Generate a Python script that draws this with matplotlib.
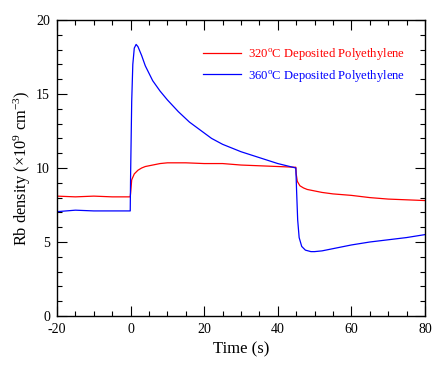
import matplotlib
matplotlib.use("Agg")
import matplotlib.pyplot as plt
from matplotlib.ticker import MultipleLocator

plt.rcParams['font.family'] = ['Liberation Serif', 'DejaVu Serif']
plt.rcParams['mathtext.fontset'] = 'custom'
plt.rcParams['mathtext.rm'] = 'Liberation Serif'
plt.rcParams['mathtext.it'] = 'Liberation Serif:italic'
plt.rcParams['axes.unicode_minus'] = False

# Data
t_red = [-20, -15, -10, -5, -0.1, 0, 0.3, 1, 2, 3, 4, 6, 8, 10, 15, 20, 25, 30, 35, 40,
         44.9, 45, 45.3, 46, 47, 48, 50, 52, 55, 60, 65, 70, 75, 80]
v_red = [8.1, 8.05, 8.1, 8.05, 8.05, 8.3, 9.2, 9.6, 9.85, 10.0, 10.1, 10.2, 10.3, 10.35,
         10.35, 10.3, 10.3, 10.2, 10.15, 10.1, 10.05, 9.6, 9.1, 8.8, 8.65, 8.55, 8.45,
         8.35, 8.25, 8.15, 8.0, 7.9, 7.85, 7.8]

t_blue = [-20, -15, -10, -5, -0.1, 0, 0.3, 0.6, 1.0, 1.5, 2, 3, 4, 6, 8, 10, 13, 16, 19,
          22, 25, 30, 35, 40, 44.9, 45.1, 45.4, 45.8, 46.5, 47.5, 49, 50, 52, 55, 60, 65,
          70, 75, 80]
v_blue = [7.05, 7.15, 7.1, 7.1, 7.1, 9.5, 14.5, 17.0, 18.1, 18.35, 18.2, 17.6, 16.9, 15.9,
          15.2, 14.6, 13.8, 13.1, 12.55, 12.0, 11.6, 11.1, 10.7, 10.3, 10.0, 8.5, 6.5, 5.3,
          4.7, 4.45, 4.35, 4.35, 4.4, 4.55, 4.8, 5.0, 5.15, 5.3, 5.5]

labels = ['320$^{\\rm o}$C Deposited Polyethylene', '360$^{\\rm o}$C Deposited Polyethylene']

fig = plt.figure(figsize=(4.36, 3.69), dpi=100)
ax = fig.add_axes([57/436, 1-316/369, 368/436, 296/369])

l1, = ax.plot(t_red, v_red, color='#ff0000', lw=0.9, label=labels[0])
l2, = ax.plot(t_blue, v_blue, color='#0000ff', lw=0.9, label=labels[1])

ax.set_xlim(-20, 80)
ax.set_ylim(0, 20)
ax.xaxis.set_major_locator(MultipleLocator(20))
ax.xaxis.set_minor_locator(MultipleLocator(5))
ax.yaxis.set_major_locator(MultipleLocator(5))
ax.yaxis.set_minor_locator(MultipleLocator(1))
ax.tick_params(which='both', direction='in', top=True, right=True, labelsize=10, width=0.8)
ax.tick_params(which='major', length=7)
ax.tick_params(which='minor', length=3.5)
ax.tick_params(axis='x', which='major', pad=5)
ax.tick_params(axis='y', which='major', pad=5)
for s in ax.spines.values():
    s.set_linewidth(1.0)

ax.set_xlabel('Time (s)', fontsize=12, labelpad=4)
ax.set_ylabel('Rb density (\u00d710$^{9}$ cm$^{-3}$)', fontsize=11.8, labelpad=2)

leg = ax.legend(loc='upper left', bbox_to_anchor=(0.397, 0.912), frameon=False,
                fontsize=9.1, handlelength=3.0, handletextpad=0.55, borderpad=0,
                borderaxespad=0, labelspacing=0.45, labelcolor='linecolor')

fig.savefig('out.png', dpi=100)
